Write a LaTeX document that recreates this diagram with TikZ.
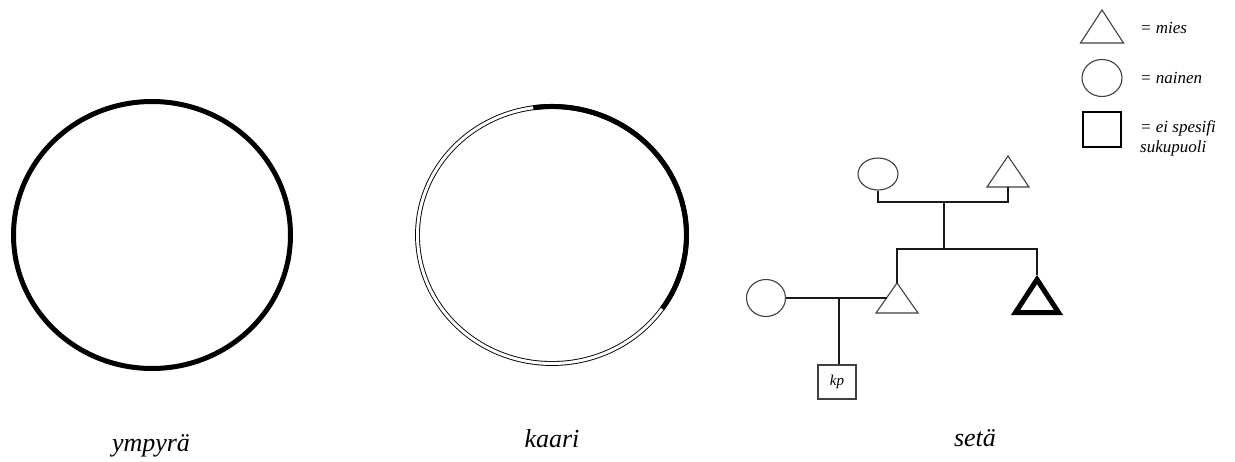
\documentclass[tikz,border=0pt]{standalone}
\usepackage{fontspec}
\setmainfont{Liberation Serif}
\usetikzlibrary{shapes.geometric,calc}
\begin{document}
\begin{tikzpicture}[x=1pt,y=-1pt,
  shp/.style={draw=black!75, line width=1.1pt, inner sep=0pt},
  conn/.style={draw=black!90, line width=1.3pt},
  lbl/.style={font=\fontsize{26}{28}\selectfont\itshape, anchor=base},
  leg/.style={font=\fontsize{17}{19}\selectfont\itshape, anchor=west, inner sep=0pt}]
\useasboundingbox (0,0) rectangle (1235,461);
% ympyra
\node[ellipse, draw=black, line width=5pt, minimum width=277, minimum height=267, inner sep=0pt] (ymp) at (152,235) {};
\node[lbl] (lymp) at (151,451) {ympyrä};
% kaari
\coordinate (kc) at (552,235);
\draw[double distance=3pt, line width=0.9pt] (kc) ellipse [x radius=134.5, y radius=128.5];
\draw[line width=5pt] (kc) ++({134.5*cos(-98)},{128.5*sin(-98)}) arc [start angle=-98, end angle=35, x radius=134.5, y radius=128.5];
\node[lbl] (lkaari) at (552,447) {kaari};
% seta
\node[shp, ellipse, minimum width=40, minimum height=32] (gm) at (878,174) {};
\coordinate (gfa) at (1008,156);
\coordinate (gfb) at (1008,187);
\draw[shp] (gfa) -- ($(gfb)+(21,0)$) -- ($(gfb)+(-21,0)$) -- cycle;
\coordinate (m1) at (944,202);
\coordinate (m2) at (944,249);
\draw[conn] (gm.south) -- (gm.south |- m1) -- (gfb |- m1) -- (gfb);
\draw[conn] (m1) -- (m2);
\coordinate (fa) at (897,283);
\draw[shp] (fa) -- ($(fa)+(21,30)$) -- ($(fa)+(-21,30)$) -- cycle;
\coordinate (ua) at (1037,279.5);
\coordinate (uatop) at (1037,275);
\draw[draw=black, line width=5pt, line join=miter] (ua) -- ($(ua)+(21.5,33)$) -- ($(ua)+(-21.5,33)$) -- cycle;
\draw[conn] (fa) -- (fa |- m2) -- (uatop |- m2) -- (uatop);
\node[shp, ellipse, minimum width=39, minimum height=37] (mo) at (766,298) {};
\coordinate (fl) at (886.5,298);
\coordinate (m3) at (839,298);
\draw[conn] (mo.east) -- (fl);
\node[shp, rectangle, minimum width=38, minimum height=34, font=\fontsize{15}{17}\selectfont\itshape] (kp) at (837,382) {kp};
\draw[conn] (m3) -- (m3 |- kp.north);
\node[lbl] (lseta) at (975,446) {setä};
% legend
\coordinate (la) at (1102,10);
\draw[shp] (la) -- ($(la)+(21.5,33)$) -- ($(la)+(-21.5,33)$) -- cycle;
\node[leg] (lmies) at (1140,28) {= mies};
\node[shp, ellipse, minimum width=40, minimum height=37] (lc) at (1102,78) {};
\node[leg] (lnainen) at (1140,78) {= nainen};
\node[shp, rectangle, minimum width=38, minimum height=35, draw=black] (ls) at (1102,129.5) {};
\node[leg] (lei) at (1140,128) {= ei spesifi};
\node[leg] (lsuku) at (1140,148) {sukupuoli};
\end{tikzpicture}
\end{document}
